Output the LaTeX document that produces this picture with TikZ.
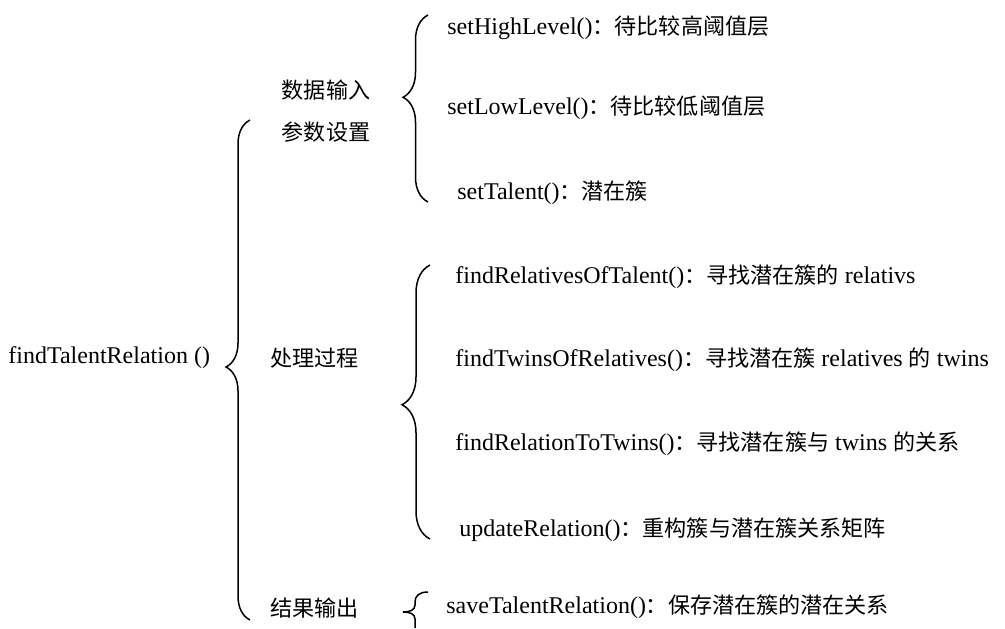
\documentclass[tikz,border=0pt]{standalone}
\usepackage{fontspec}
\setmainfont{Liberation Serif}
\newfontfamily\cjk{Noto Sans CJK SC}[Scale=0.92]
\usetikzlibrary{decorations.pathreplacing}
\tikzset{
  base/.style={font=\fontsize{12}{21}\selectfont, inner sep=0pt, anchor=west},
  grp/.style={base, font=\fontsize{12}{21}\selectfont\cjk, align=center},
  leaf/.style={base},
  wbrace/.style={decorate, decoration={brace, amplitude=#1, aspect=0.5}, line width=0.75pt},
  wbrace/.default=12pt,
}
\begin{document}
\begin{tikzpicture}[x=0.5pt, y=-0.5pt]
  \useasboundingbox (0,0) rectangle (1005,628);

  % root and the three groups
  \node[base] (root) at (8,358) {findTalentRelation ()};
  \node[grp, anchor=center] (input) at (326,111) {数据输入\\参数设置};
  \node[grp] (proc) at (270,358) {处理过程};
  \node[grp] (out) at (270,608) {结果输出};

  % leaves
  \node[leaf] (hi) at (447,28) {setHighLevel(){\cjk ：待比较高阈值层}};
  \node[leaf] (lo) at (447,108) {setLowLevel(){\cjk ：待比较低阈值层}};
  \node[leaf] (tal) at (457,193) {setTalent(){\cjk ：潜在簇}};
  \node[leaf] (rel) at (455,277) {findRelativesOfTalent(){\cjk ：寻找潜在簇的} relativs};
  \node[leaf] (twin) at (455,360) {findTwinsOfRelatives(){\cjk ：寻找潜在簇} relatives {\cjk 的} twins};
  \node[leaf] (rtt) at (455,444) {findRelationToTwins(){\cjk ：寻找潜在簇与} twins {\cjk 的关系}};
  \node[leaf] (upd) at (459,530) {updateRelation(){\cjk ：重构簇与潜在簇关系矩阵}};
  \node[leaf] (save) at (446,607) {saveTalentRelation(){\cjk ：保存潜在簇的潜在关系}};

  % brace end points
  \coordinate (b0t) at (250,120);
  \coordinate (b0b) at (250,620);
  \coordinate (b1t) at (428,15);
  \coordinate (b1b) at (428,202);
  \coordinate (b2t) at (430,265);
  \coordinate (b2b) at (430,539);
  \coordinate (b3t) at (428,592);
  \coordinate (b3b) at (415,628);

  \draw[wbrace=12pt, decoration={aspect=0.506}] (b0b) -- (b0t);
  \draw[wbrace=12.5pt, decoration={aspect=0.56}] (b1b) -- (b1t);
  \draw[wbrace=14pt, decoration={aspect=0.49}] (b2b) -- (b2t);
  % the short one at the bottom
  \draw[line width=0.75pt] (b3t) .. controls (419,592) and (415,596) .. (415,602)
    -- (415,605) .. controls (415,610) and (410,612) .. (403,612)
    .. controls (410,612) and (415,614) .. (415,619) -- (b3b);
\end{tikzpicture}
\end{document}
